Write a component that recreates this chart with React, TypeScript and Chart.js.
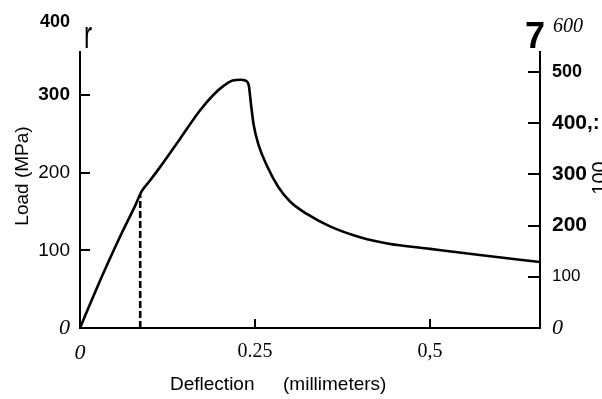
import React, { useEffect, useRef } from 'react';
import { Chart, registerables } from 'chart.js';

Chart.register(...registerables);

// Curve: deflection (mm) vs load (MPa)
const deflection = [0, 0.02, 0.04, 0.06, 0.079, 0.088, 0.1, 0.114, 0.143, 0.171, 0.19, 0.205, 0.218, 0.23, 0.236, 0.241, 0.244, 0.248, 0.255, 0.267, 0.283, 0.3, 0.324, 0.357, 0.4, 0.439, 0.5, 0.571, 0.657];
const load = [0, 43, 84, 123, 158, 176, 190, 207, 244, 280, 300, 312, 319, 320, 319, 313, 290, 262, 236, 209, 182, 163, 147, 131, 117, 109, 102, 94, 85];

// Dashed marker line
const markerDeflection = [0.086, 0.086];
const markerLoad = [0, 172];

// Ticks
const xTickValues = [0, 0.25, 0.5];
const xTickLabels = ['0', '0.25', '0,5'];
const leftTickValues = [0, 100, 200, 300];
const leftTickLabels = ['0', '100', '200', '300'];
const rightTickValues = [0, 100, 200, 300, 400, 500];
const rightTickLabels = ['0', '100', '200', '300', '400,:', '500'];

const SANS = '"Liberation Sans", Arial, sans-serif';
const SERIF = '"Liberation Serif", "Times New Roman", serif';

const extrasPlugin = {
  id: 'extras',
  afterDraw(chart: any) {
    const ctx = chart.ctx;
    const x = chart.scales.x;
    const y = chart.scales.y;
    const y1 = chart.scales.y1;
    ctx.save();
    ctx.strokeStyle = '#000';
    ctx.lineWidth = 2;
    // inner ticks left
    [100, 200, 300].forEach((v) => {
      const py = Math.round(y.getPixelForValue(v));
      ctx.beginPath();
      ctx.moveTo(x.left, py);
      ctx.lineTo(x.left + 10, py);
      ctx.stroke();
    });
    // inner ticks right
    [100, 200, 300, 400, 500].forEach((v) => {
      const py = Math.round(y1.getPixelForValue(v));
      ctx.beginPath();
      ctx.moveTo(x.right, py);
      ctx.lineTo(x.right - 12, py);
      ctx.stroke();
    });
    // inner ticks bottom
    [0.25, 0.5].forEach((v) => {
      const px = Math.round(x.getPixelForValue(v));
      ctx.beginPath();
      ctx.moveTo(px, y.bottom);
      ctx.lineTo(px, y.bottom - 9);
      ctx.stroke();
    });

    ctx.fillStyle = '#000';
    ctx.textBaseline = 'middle';
    // Left top "400"
    ctx.textAlign = 'right';
    ctx.font = `bold 18px ${SANS}`;
    ctx.fillText('400', 70, 22);
    // "r" mark
    ctx.save();
    ctx.textAlign = 'center';
    ctx.translate(88, 37);
    ctx.scale(1.1, 1.8);
    ctx.font = `22px ${SANS}`;
    ctx.fillText('r', 0, 0);
    ctx.restore();
    // "7"
    ctx.textAlign = 'center';
    ctx.font = `bold 36px ${SANS}`;
    ctx.fillText('7', 535, 38);
    // "600"
    ctx.textAlign = 'left';
    ctx.font = `italic 20px ${SERIF}`;
    ctx.fillText('600', 553, 27);
    // rotated "100" at right edge (partly cut)
    ctx.save();
    ctx.translate(600, 178);
    ctx.rotate(-Math.PI / 2);
    ctx.textAlign = 'center';
    ctx.font = `20px ${SANS}`;
    ctx.fillText('100', 0, 0);
    ctx.restore();
    // Axis titles
    ctx.textAlign = 'left';
    ctx.textBaseline = 'alphabetic';
    ctx.font = `19px ${SANS}`;
    ctx.fillText('Deflection', 170, 390);
    ctx.fillText('(millimeters)', 283, 390);
    ctx.save();
    ctx.translate(28, 176);
    ctx.rotate(-Math.PI / 2);
    ctx.textAlign = 'center';
    ctx.fillText('Load (MPa)', 0, 0);
    ctx.restore();
    ctx.restore();
  },
};

export default function App() {
  const ref = useRef<HTMLCanvasElement | null>(null);
  useEffect(() => {
    if (!ref.current) return;
    const chart = new Chart(ref.current, {
      type: 'line',
      data: {
        datasets: [
          {
            data: deflection.map((d, i) => ({ x: d, y: load[i] })),
            borderColor: '#000',
            borderWidth: 2.6,
            pointRadius: 0,
            cubicInterpolationMode: 'monotone',
            fill: false,
          },
          {
            data: markerDeflection.map((d, i) => ({ x: d, y: markerLoad[i] })),
            borderColor: '#000',
            borderWidth: 2.6,
            borderDash: [7, 3],
            pointRadius: 0,
            fill: false,
          },
        ],
      },
      options: {
        animation: false,
        responsive: false,
        devicePixelRatio: 1,
        layout: { padding: { top: 52, left: 0, right: 0, bottom: 0 } },
        plugins: { legend: { display: false }, tooltip: { enabled: false } },
        scales: {
          x: {
            type: 'linear',
            min: 0,
            max: 0.657,
            afterFit: (s: any) => { s.height = 71; },
            afterBuildTicks: (s: any) => { s.ticks = xTickValues.map((v) => ({ value: v })); },
            grid: { display: true, drawOnChartArea: false, drawTicks: false },
            border: { display: true, color: '#000', width: 2 },
            ticks: {
              padding: 12,
              color: '#000',
              maxRotation: 0,
              autoSkip: false,
              callback: (v: any) => xTickLabels[xTickValues.indexOf(Number(v))],
              font: (c: any) => c.tick && c.tick.value === 0
                ? { family: SERIF, size: 22, style: 'italic' }
                : { family: SERIF, size: 20 },
            },
          },
          y: {
            type: 'linear',
            position: 'left',
            min: 0,
            max: 355.7,
            afterFit: (s: any) => { s.width = 80; },
            afterBuildTicks: (s: any) => { s.ticks = leftTickValues.map((v) => ({ value: v })); },
            grid: { display: true, drawOnChartArea: false, drawTicks: false },
            border: { display: true, color: '#000', width: 2 },
            ticks: {
              padding: 10,
              color: '#000',
              callback: (v: any) => leftTickLabels[leftTickValues.indexOf(Number(v))],
              font: (c: any) => {
                const v = c.tick ? c.tick.value : 0;
                if (v === 0) return { family: SERIF, size: 22, style: 'italic' };
                if (v === 300) return { family: SANS, size: 19, weight: 'bold' };
                return { family: SANS, size: 19 };
              },
            },
          },
          y1: {
            type: 'linear',
            position: 'right',
            min: 0,
            max: 539,
            afterFit: (s: any) => { s.width = 62; },
            afterBuildTicks: (s: any) => { s.ticks = rightTickValues.map((v) => ({ value: v })); },
            grid: { display: true, drawOnChartArea: false, drawTicks: false },
            border: { display: true, color: '#000', width: 2 },
            ticks: {
              padding: 12,
              color: '#000',
              callback: (v: any) => rightTickLabels[rightTickValues.indexOf(Number(v))],
              font: (c: any) => {
                const v = c.tick ? c.tick.value : 0;
                if (v === 0) return { family: SERIF, size: 22, style: 'italic' };
                if (v === 100) return { family: SANS, size: 17 };
                if (v === 500) return { family: SANS, size: 18, weight: 'bold' };
                return { family: SANS, size: 21, weight: 'bold' };
              },
            },
          },
        },
      },
      plugins: [extrasPlugin],
    } as any);
    return () => chart.destroy();
  }, []);
  return (
    <canvas
      ref={ref}
      width={602}
      height={399}
      style={{ position: 'absolute', left: 0, top: 0, width: 602, height: 399 }}
    />
  );
}
